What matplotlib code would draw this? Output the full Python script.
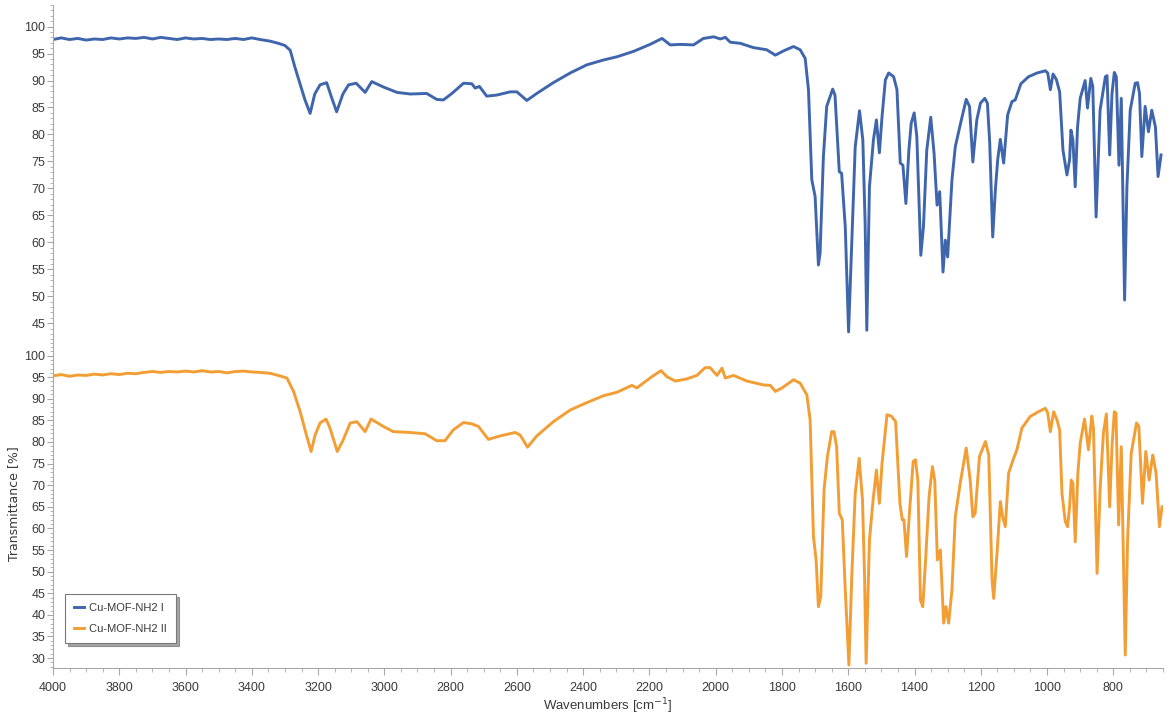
import matplotlib
matplotlib.use("Agg")
import matplotlib.pyplot as plt
from matplotlib.ticker import MultipleLocator

plt.rcParams['font.family'] = ['Liberation Sans Narrow', 'Liberation Sans', 'DejaVu Sans']

# FTIR spectra, wavenumber (cm-1) vs transmittance (%)
wn_1 = [4000, 3975, 3950, 3925, 3900, 3875, 3850, 3825, 3800, 3775, 3750, 3725, 3700, 3675, 3650,
        3625, 3600, 3575, 3550, 3525, 3500, 3475, 3450, 3425, 3400, 3375, 3345, 3320, 3300, 3284,
        3270, 3255, 3240, 3224, 3210, 3194, 3174, 3160, 3144, 3125, 3108, 3085, 3058, 3038, 3003,
        2962, 2922, 2872, 2842, 2822, 2796, 2761, 2736, 2726, 2713, 2691, 2661, 2620, 2600, 2570,
        2540, 2490, 2439, 2389, 2339, 2298, 2248, 2198, 2162, 2137, 2107, 2067, 2037, 2006, 1986,
        1971, 1956, 1926, 1886, 1846, 1820, 1795, 1765, 1745, 1730, 1720, 1710, 1700, 1690, 1685,
        1675, 1665, 1647, 1640, 1627, 1620, 1609, 1599, 1589, 1579, 1566, 1556, 1549, 1544, 1536,
        1524, 1515, 1506, 1498, 1488, 1478, 1463, 1453, 1443, 1435, 1426, 1417, 1410, 1401, 1393,
        1381, 1373, 1363, 1351, 1341, 1332, 1324, 1314, 1307, 1300, 1287, 1277, 1262, 1244, 1234,
        1224, 1212, 1201, 1188, 1180, 1173, 1164, 1156, 1149, 1141, 1131, 1119, 1106, 1096, 1079,
        1056, 1030, 1005, 998, 990, 982, 972, 962, 952, 940, 932, 928, 922, 915, 908,
        900, 885, 878, 868, 862, 852, 840, 824, 819, 811, 804, 797, 791, 783, 776,
        766, 759, 749, 734, 727, 721, 714, 704, 694, 684, 673, 665, 656]
t_1 = [97.6, 97.9, 97.6, 97.8, 97.5, 97.7, 97.6, 97.9, 97.7, 97.9, 97.8, 98.0, 97.7, 98.0, 97.8,
       97.6, 97.9, 97.7, 97.8, 97.6, 97.7, 97.6, 97.8, 97.6, 97.9, 97.6, 97.3, 96.9, 96.5, 95.6,
       92.5, 89.5, 86.5, 83.9, 87.5, 89.2, 89.6, 87.0, 84.2, 87.5, 89.2, 89.5, 87.8, 89.8, 88.8,
       87.8, 87.5, 87.6, 86.5, 86.4, 87.6, 89.5, 89.4, 88.6, 88.9, 87.1, 87.3, 87.9, 87.9, 86.3,
       87.6, 89.6, 91.4, 92.9, 93.8, 94.4, 95.4, 96.7, 97.8, 96.6, 96.7, 96.6, 97.8, 98.1, 97.7,
       98.0, 97.1, 96.9, 96.1, 95.7, 94.7, 95.5, 96.3, 95.7, 94.1, 88.3, 71.6, 68.5, 55.8, 58.0,
       75.9, 85.2, 88.4, 87.3, 73.1, 72.8, 62.9, 43.4, 60.4, 77.7, 84.4, 79.0, 63.5, 43.7, 70.3,
       79.0, 82.7, 76.6, 83.3, 90.1, 91.4, 90.7, 88.3, 74.7, 74.3, 67.2, 77.1, 82.1, 84.0, 79.6,
       57.6, 62.9, 77.1, 83.2, 76.5, 66.9, 69.4, 54.5, 60.4, 57.3, 71.6, 77.7, 81.8, 86.5, 85.2,
       74.9, 82.7, 85.8, 86.7, 85.8, 78.4, 61.0, 69.7, 75.3, 79.1, 74.7, 83.6, 86.1, 86.4, 89.4,
       90.7, 91.4, 91.8, 91.4, 88.3, 91.2, 90.2, 87.9, 77.1, 72.5, 75.3, 80.8, 79.0, 70.3, 81.4,
       86.7, 90.0, 84.9, 90.4, 88.9, 64.7, 84.5, 90.7, 90.9, 76.2, 87.6, 91.5, 90.7, 74.3, 86.7,
       49.3, 70.3, 84.5, 89.5, 89.6, 87.6, 75.9, 85.2, 80.5, 84.5, 81.4, 72.2, 76.2]

wn_2 = [4000, 3975, 3950, 3925, 3900, 3875, 3850, 3825, 3800, 3775, 3750, 3725, 3700, 3675, 3650,
        3625, 3600, 3575, 3550, 3525, 3500, 3475, 3450, 3425, 3400, 3375, 3345, 3320, 3294, 3274,
        3254, 3234, 3221, 3209, 3194, 3176, 3164, 3142, 3124, 3103, 3083, 3058, 3040, 3003, 2973,
        2922, 2877, 2842, 2817, 2792, 2761, 2736, 2716, 2686, 2651, 2605, 2590, 2568, 2540, 2490,
        2439, 2389, 2339, 2298, 2253, 2238, 2193, 2165, 2147, 2122, 2087, 2057, 2032, 2017, 1996,
        1981, 1971, 1946, 1906, 1856, 1835, 1820, 1800, 1765, 1745, 1725, 1715, 1705, 1697, 1690,
        1683, 1673, 1663, 1650, 1643, 1635, 1627, 1618, 1609, 1598, 1589, 1579, 1567, 1557, 1551,
        1546, 1536, 1525, 1515, 1506, 1498, 1483, 1470, 1457, 1444, 1437, 1432, 1424, 1414, 1404,
        1397, 1390, 1382, 1375, 1366, 1356, 1346, 1339, 1331, 1322, 1312, 1305, 1297, 1287, 1277,
        1262, 1244, 1232, 1224, 1217, 1204, 1186, 1176, 1166, 1161, 1151, 1141, 1134, 1126, 1116,
        1101, 1091, 1076, 1051, 1026, 1005, 998, 990, 980, 970, 962, 955, 945, 938, 932,
        927, 922, 915, 907, 900, 887, 875, 865, 860, 849, 840, 830, 821, 811, 804,
        797, 792, 784, 776, 764, 757, 746, 730, 723, 712, 702, 692, 681, 671, 661, 653]
t_2 = [95.3, 95.6, 95.2, 95.5, 95.4, 95.7, 95.5, 95.8, 95.6, 95.9, 95.8, 96.1, 96.3, 96.1, 96.3,
       96.2, 96.4, 96.2, 96.5, 96.2, 96.3, 96.0, 96.3, 96.4, 96.2, 96.1, 95.9, 95.4, 94.8, 91.7,
       87.0, 81.3, 77.8, 81.6, 84.4, 85.3, 83.2, 77.8, 80.5, 84.4, 84.7, 82.4, 85.3, 83.6, 82.4,
       82.2, 81.9, 80.3, 80.3, 82.8, 84.5, 84.2, 83.6, 80.6, 81.4, 82.2, 81.6, 78.8, 81.4, 84.7,
       87.4, 89.1, 90.7, 91.5, 93.1, 92.5, 95.1, 96.5, 95.1, 94.1, 94.6, 95.4, 97.2, 97.2, 95.4,
       97.1, 94.8, 95.4, 94.1, 93.2, 93.1, 91.7, 92.5, 94.4, 93.6, 90.9, 85.1, 58.1, 52.7, 41.9,
       44.2, 68.9, 76.6, 82.4, 82.4, 78.9, 63.5, 62.0, 45.8, 28.4, 49.6, 68.1, 76.2, 66.6, 49.6,
       28.8, 57.3, 66.6, 73.5, 65.8, 75.1, 86.3, 86.0, 84.7, 65.8, 62.0, 62.0, 53.5, 65.0, 75.5,
       75.9, 71.2, 43.4, 41.9, 53.5, 67.4, 74.3, 71.2, 52.7, 55.0, 38.1, 41.9, 38.1, 45.8, 62.7,
       70.5, 78.6, 71.2, 62.7, 63.5, 76.6, 80.1, 77.0, 48.1, 43.8, 54.3, 66.2, 62.7, 60.4, 72.8,
       76.2, 78.2, 83.2, 85.9, 87.0, 87.8, 86.7, 82.4, 87.0, 85.1, 82.8, 68.1, 61.6, 60.4, 65.0,
       71.2, 70.5, 56.9, 72.8, 79.7, 85.3, 78.2, 86.0, 83.2, 49.6, 68.9, 82.0, 86.5, 65.0, 78.9,
       87.0, 86.7, 60.8, 78.9, 30.7, 57.3, 77.4, 84.4, 83.6, 65.8, 77.8, 71.2, 77.0, 72.8, 60.4, 65.0]

labels = ['Cu-MOF-NH2 I', 'Cu-MOF-NH2 II']
colors = ['#3f66ad', '#f29e35']

axis_gray = '#a8a8a8'
text_gray = '#3a3a3a'

fig = plt.figure(figsize=(11.67, 7.24), dpi=100)
ax1 = fig.add_axes([0.0454, 0.5304, 0.9512, 0.4627])
ax2 = fig.add_axes([0.0454, 0.0773, 0.9512, 0.4531], sharex=ax1)

l1, = ax1.plot(wn_1, t_1, color=colors[0], lw=2.1)
l2, = ax2.plot(wn_2, t_2, color=colors[1], lw=2.1)

ax1.set_ylim(41.9, 104.0)
ax2.set_ylim(27.7, 103.6)
ax2.set_xlim(4000, 650)

for ax in (ax1, ax2):
    ax.set_facecolor('none')
    for s in ('top', 'right'):
        ax.spines[s].set_visible(False)
    ax.spines['left'].set_color(axis_gray)
    ax.spines['bottom'].set_color(axis_gray)
    ax.yaxis.set_major_locator(MultipleLocator(5))
    ax.yaxis.set_minor_locator(MultipleLocator(1))
    ax.tick_params(axis='y', which='major', length=4, color=axis_gray,
                   labelsize=9, labelcolor=text_gray, pad=1.5)
    ax.tick_params(axis='y', which='minor', length=2, color=axis_gray)

ax1.spines['bottom'].set_visible(False)
ax1.tick_params(axis='x', which='both', bottom=False, labelbottom=False)
ax1.set_yticks(range(45, 101, 5))
ax2.set_yticks(range(30, 101, 5))

ax2.xaxis.set_major_locator(MultipleLocator(200))
ax2.xaxis.set_minor_locator(MultipleLocator(50))
ax2.set_xticks(range(4000, 799, -200))
ax2.tick_params(axis='x', which='major', length=5, color=axis_gray,
                labelsize=9, labelcolor=text_gray, pad=5)
ax2.tick_params(axis='x', which='minor', length=3, color=axis_gray)

ax2.set_xlabel('Wavenumbers [cm$^{-1}$]', fontsize=9.5, color=text_gray, labelpad=2)
ax2.set_ylabel('Transmittance [%]', fontsize=9, color=text_gray,
               family=['DejaVu Sans'], labelpad=3)

leg = ax2.legend([l1, l2], labels, loc='lower left', bbox_to_anchor=(0.0108, 0.076),
                 borderaxespad=0, fontsize=8, handlelength=0.9, handletextpad=0.5,
                 borderpad=0.8, labelspacing=1.0, fancybox=False, shadow=True, frameon=True)
leg.get_frame().set_edgecolor('#7a7a7a')
leg.get_frame().set_linewidth(0.8)
for t in leg.get_texts():
    t.set_color(text_gray)

fig.savefig('out.png', dpi=100)
